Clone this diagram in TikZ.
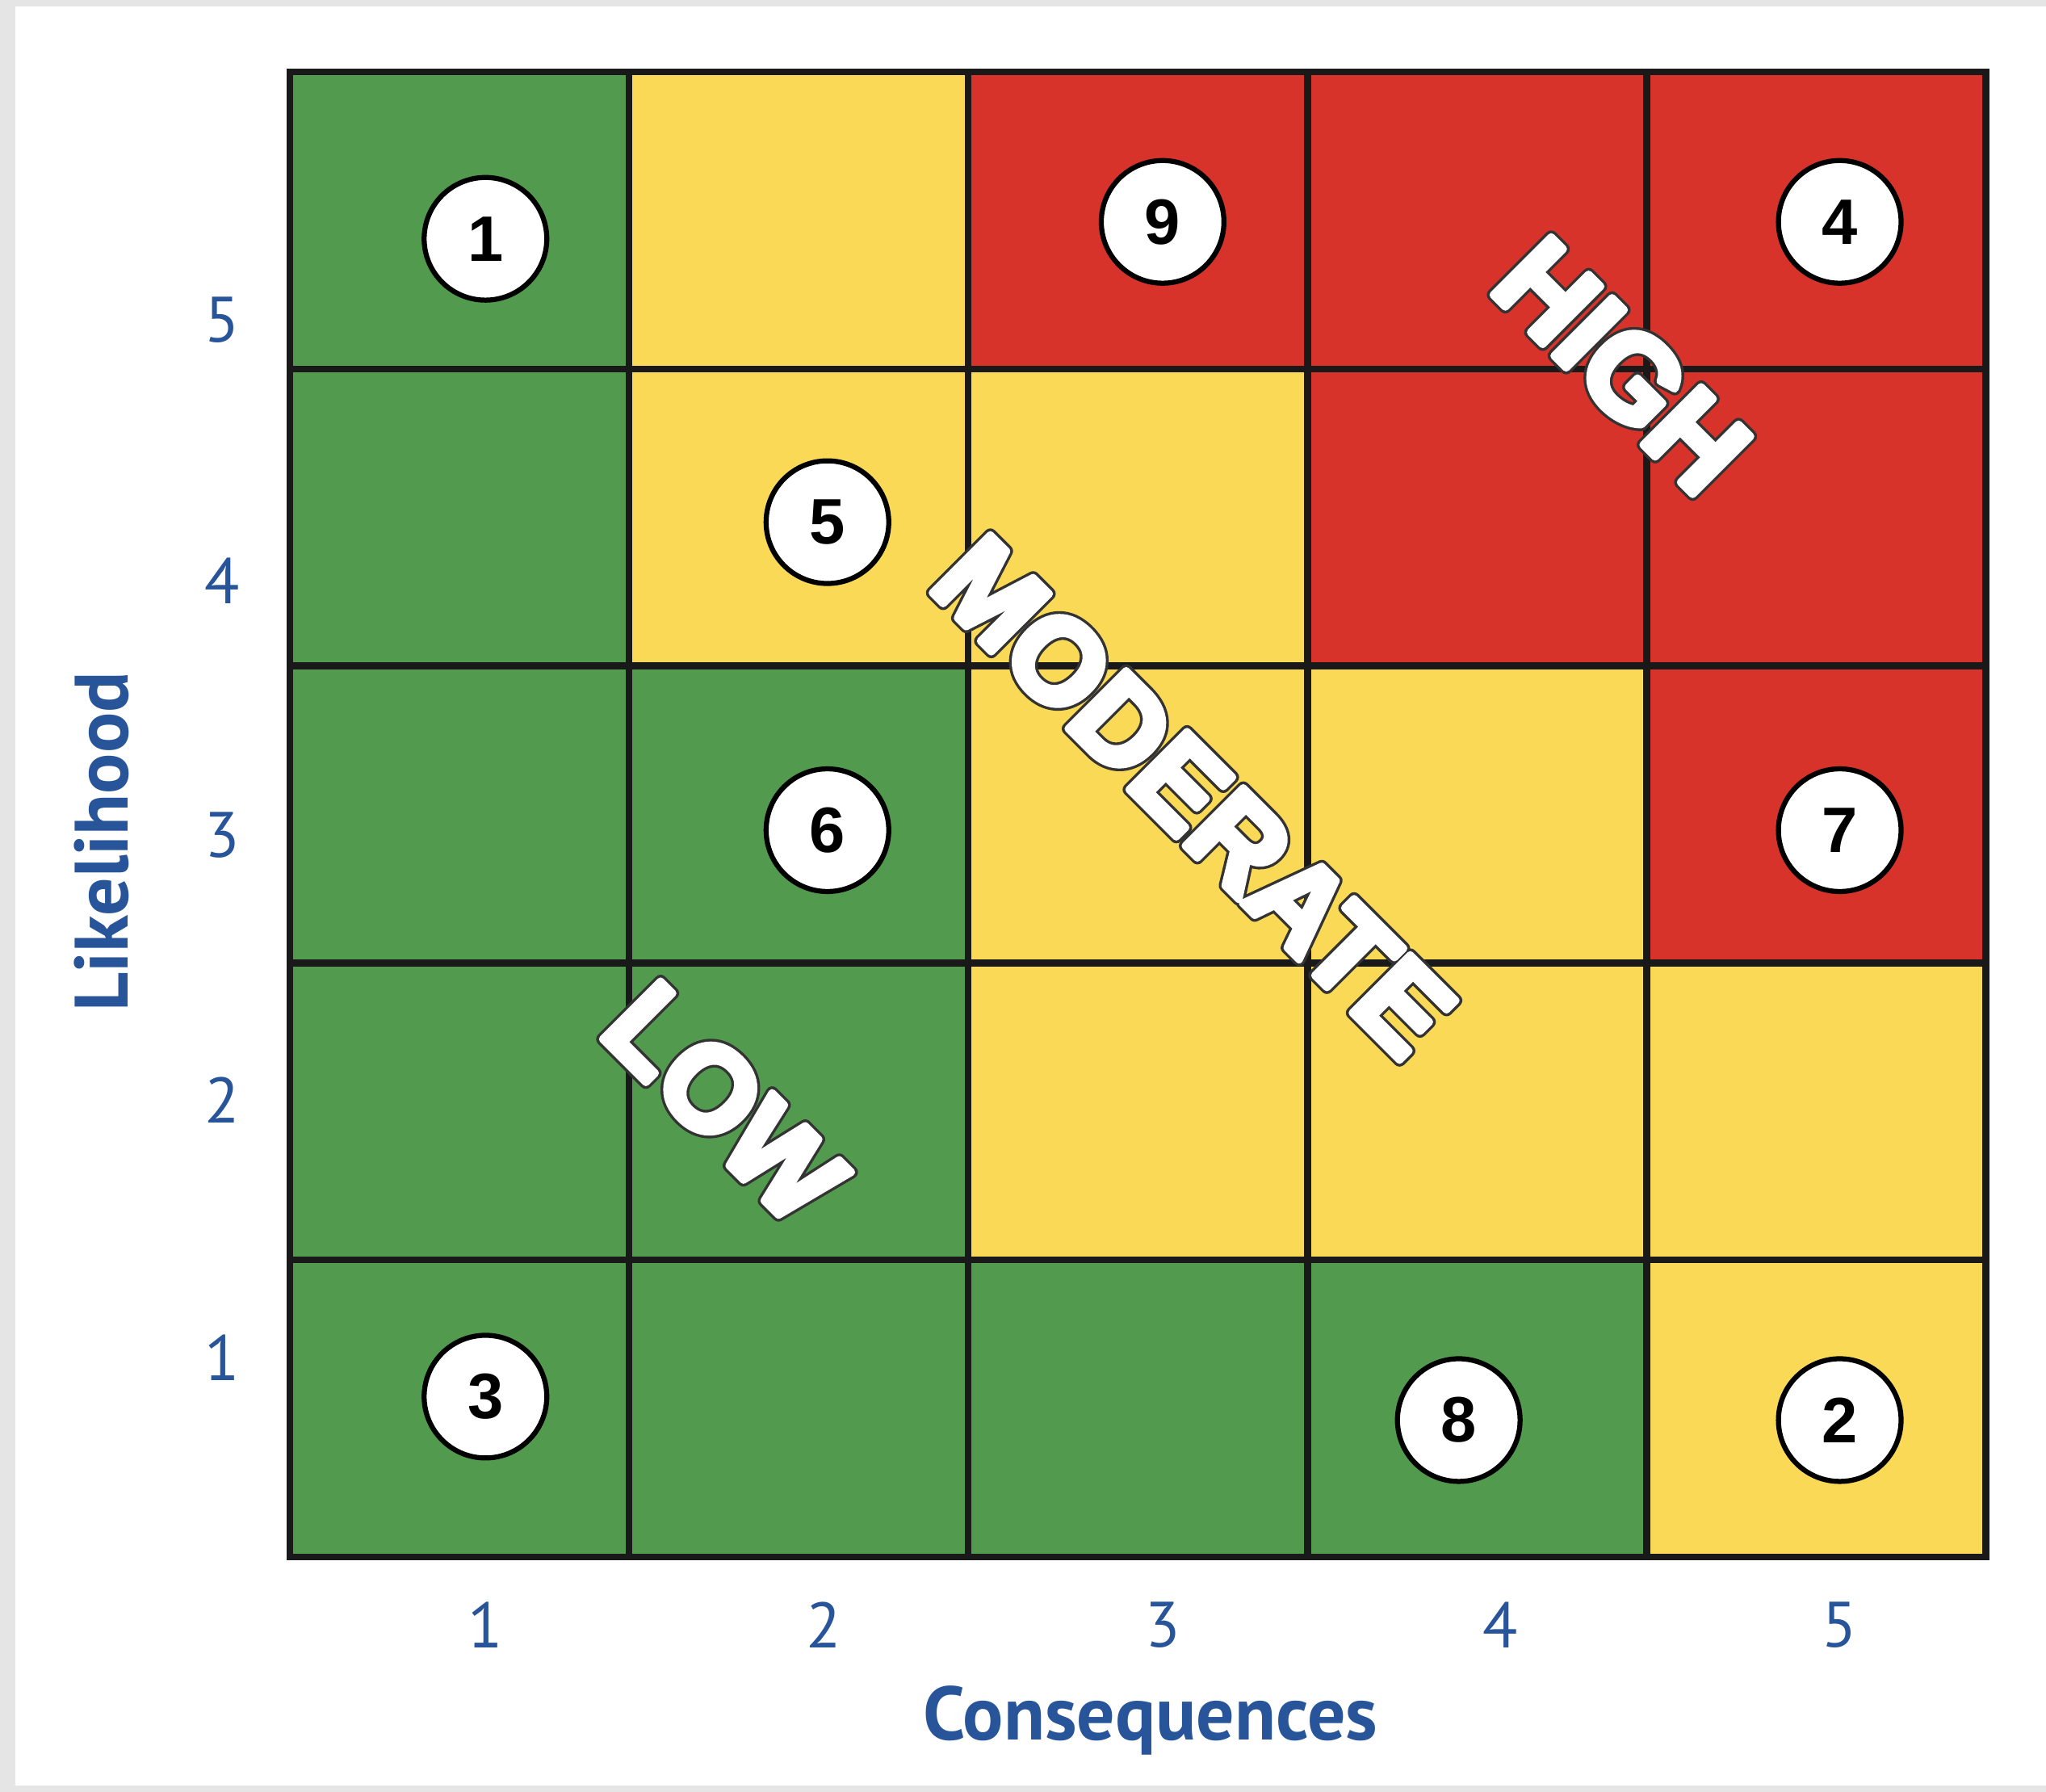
\documentclass[tikz,border=0pt]{standalone}
\usepackage{fontspec}
\setmainfont{Liberation Sans}
\newfontfamily\axisfont{PT Sans}
\definecolor{lowcol}{HTML}{529B4E}
\definecolor{modcol}{HTML}{F9D955}
\definecolor{highcol}{HTML}{D8332A}
\definecolor{axisblue}{HTML}{28549A}
% white letters with a thin dark outline: dark stroke below, white fill + stroke on top
\newcommand{\outlined}[1]{%
  \rlap{\special{pdf:literal direct 1 Tr 1 j 2.8 w 0.2 0.2 0.2 RG}#1}%
  \special{pdf:literal direct 2 Tr 1 j 1.6 w 1 1 1 RG}#1\special{pdf:literal direct 0 Tr}}

\begin{document}
\begin{tikzpicture}[
    x=2.6cm, y=2.276cm,
    gridline/.style={line width=1.5pt, black!90},
    riskno/.style={draw, circle, fill=white, line width=1.1pt, minimum size=0.94cm, inner sep=0pt, font=\fontsize{14}{14}\selectfont\bfseries},
    tick/.style={font=\axisfont\fontsize{14}{14}\selectfont, text=axisblue},
    axislbl/.style={font=\axisfont\bfseries\fontsize{16.5}{16.5}\selectfont, text=axisblue},
    zone/.style={rotate=-45, text=white, font=\fontsize{26}{26}\selectfont\bfseries}
]
% frame
\fill[black!10] (-0.854,-0.791) rectangle (5.177,5.242);
\fill[white] (-0.808,-0.769) rectangle (5.177,5.220);
\useasboundingbox (-0.854,-0.791) rectangle (5.177,5.242);

% cells, bottom row first
\foreach [count=\r from 0] \cols in {{lowcol,lowcol,lowcol,lowcol,modcol},
                                    {lowcol,lowcol,modcol,modcol,modcol},
                                    {lowcol,lowcol,modcol,modcol,highcol},
                                    {lowcol,modcol,modcol,highcol,highcol},
                                    {lowcol,modcol,highcol,highcol,highcol}}
  \foreach [count=\c from 0] \col in \cols
    \fill[\col] (\c,\r) rectangle ++(1,1);

\foreach \i in {1,...,4} {
  \draw[gridline] (\i,0) -- (\i,5);
  \draw[gridline] (0,\i) -- (5,\i);
}
\draw[gridline] (0,0) rectangle (5,5);

% zones
\node[zone] (high) at (3.927,4.011) {\outlined{HIGH}};
\node[zone] (moderate) at (2.665,2.561) {\outlined{MODERATE}};
\node[zone] (low) at (1.281,1.529) {\outlined{LOW}};

% risks
\node[riskno] (r1) at (0.577,4.438) {1};
\node[riskno] (r9) at (2.573,4.495) {9};
\node[riskno] (r4) at (4.569,4.495) {4};
\node[riskno] (r5) at (1.585,3.484) {5};
\node[riskno] (r6) at (1.585,2.447) {6};
\node[riskno] (r7) at (4.569,2.447) {7};
\node[riskno] (r3) at (0.577,0.540) {3};
\node[riskno] (r8) at (3.446,0.461) {8};
\node[riskno] (r2) at (4.569,0.461) {2};

% axes
\foreach \n/\v in {5/4.165, 4/3.286, 3/2.430, 2/1.538, 1/0.672}
  \node[tick] (ly\n) at (-0.2,\v) {\n};
\foreach \n/\u in {1/0.577, 2/1.573, 3/2.573, 4/3.569, 5/4.569}
  \node[tick] (cx\n) at (\u,-0.228) {\n};
\node[axislbl] (cons) at (2.538,-0.549) {Consequences};
\node[axislbl, rotate=90] (like) at (-0.554,2.408) {Likelihood};
\end{tikzpicture}
\end{document}
